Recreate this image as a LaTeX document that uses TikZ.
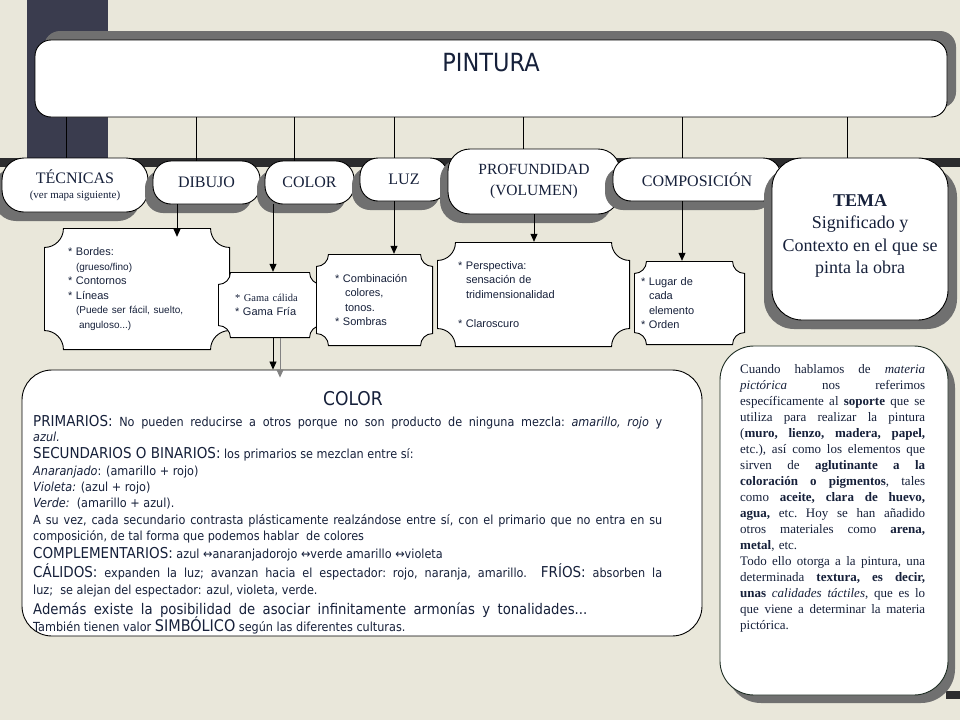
\documentclass[tikz,border=0pt]{standalone}
\usepackage{fontspec}
\setmainfont{Liberation Serif}
\newfontfamily\arialf{Liberation Sans}
\newfontfamily\tahf[FakeStretch=0.9]{DejaVu Sans}
\usetikzlibrary{arrows.meta, positioning, shadows}

\definecolor{paper}{RGB}{233,231,218}
\definecolor{slab}{RGB}{58,60,78}
\definecolor{barc}{RGB}{44,44,46}
\definecolor{ink}{RGB}{22,32,58}
\definecolor{shd}{RGB}{112,112,112}
\definecolor{edge}{RGB}{30,45,35}
\definecolor{greyarr}{RGB}{130,130,130}

\newcommand{\itm}{*\ }
\newcommand{\bigw}[1]{{\fontsize{15}{17}\selectfont #1}}
\newcommand{\jbox}[2]{\makebox[#1][s]{\frenchspacing\spaceskip=0pt\xspaceskip=0pt\relax#2}}

\tikzset{
  topbox/.style={
    rectangle, draw=black, line width=0.9pt, fill=white,
    rounded corners=16pt, minimum width=912pt, minimum height=77pt,
    drop shadow={shadow xshift=9pt, shadow yshift=9pt, fill=shd, opacity=1}
  },
  catbox/.style={
    rectangle, draw=black, line width=0.9pt, fill=white,
    rounded corners=18pt, align=center, text=ink, inner sep=0pt,
    font=\fontsize{16}{19}\selectfont,
    drop shadow={shadow xshift=-8pt, shadow yshift=-9pt, fill=shd, opacity=1}
  },
  plaque/.style={
    rectangle, inner sep=0pt, align=left, text=ink,
    font=\arialf\fontsize{11}{14.5}\selectfont,
    path picture={
      \draw[line width=0.9pt, fill=white]
        ([xshift=#1+0.45pt, yshift=-0.45pt]path picture bounding box.north west)
        -- ([xshift=-#1-0.45pt, yshift=-0.45pt]path picture bounding box.north east)
        arc[start angle=180, end angle=270, radius=#1]
        -- ([xshift=-0.45pt, yshift=#1+0.45pt]path picture bounding box.south east)
        arc[start angle=90, end angle=180, radius=#1]
        -- ([xshift=#1+0.45pt, yshift=0.45pt]path picture bounding box.south west)
        arc[start angle=0, end angle=90, radius=#1]
        -- ([xshift=0.45pt, yshift=-#1-0.45pt]path picture bounding box.north west)
        arc[start angle=270, end angle=360, radius=#1]
        -- cycle;
    }
  },
  arr/.style={line width=0.8pt, -{Triangle[length=8pt, width=7pt]}},
  cline/.style={anchor=base west, inner sep=0pt, text=ink,
    font=\tahf\fontsize{12.5}{14}\selectfont}
}

\begin{document}
\begin{tikzpicture}[x=1pt, y=-1pt]
  \useasboundingbox (0,0) rectangle (960,720);
  \fill[paper] (0,0) rectangle (960,720);
  % dark bars of the slide
  \fill[slab] (27,0) rectangle (108,158);
  \fill[barc] (0,158) rectangle (960,167);
  \fill[barc] (946,691) rectangle (960,699);

  % title
  \node[topbox] (pintura) at (491,78.5) {};
  \node[text=ink, font=\tahf\fontsize{25}{30}\selectfont] (ptitle) at (491,63) {PINTURA};

  % second row
  \node[catbox, minimum width=146pt, minimum height=54pt, rounded corners=22pt,
        font=\fontsize{16}{15}\selectfont] (tecnicas) at (75,185)
        {TÉCNICAS\\{\fontsize{11}{13}\selectfont (ver mapa siguiente)}};
  \node[catbox, minimum width=107pt, minimum height=43pt] (dibujo) at (206.5,182.5) {DIBUJO};
  \node[catbox, minimum width=89pt, minimum height=43pt] (colorc) at (309.5,182.5) {COLOR};
  \node[catbox, minimum width=88pt, minimum height=43pt] (luz) at (404,179.5) {LUZ};
  \node[catbox, minimum width=172pt, minimum height=65pt, rounded corners=22pt,
        font=\fontsize{15.5}{21}\selectfont] (prof) at (534,181.5) {PROFUNDIDAD\\(VOLUMEN)};
  \node[catbox, minimum width=168pt, minimum height=43pt] (comp) at (697,179.5) {COMPOSICIÓN};
  \node[catbox, minimum width=176pt, minimum height=162pt, rounded corners=30pt,
        font=\fontsize{18}{22.5}\selectfont,
        drop shadow={shadow xshift=9pt, shadow yshift=-9pt, fill=shd, opacity=1}]
        (tema) at (860,239) {\textbf{TEMA}\\Significado y\\Contexto en el que se\\pinta la obra\\[-12.5pt]};

  \foreach \n/\dx in {tecnicas/-9, dibujo/-10.5, colorc/-15.5, luz/-10, prof/-11, comp/-15, tema/-13}
    \draw[line width=0.8pt] ([xshift=\dx pt]\n.north) -- ([xshift=\dx pt]\n.north |- pintura.south);

  % detail boxes
  \node[plaque=19pt, minimum width=186pt, minimum height=122pt, text width=138pt] (bordes) at (137,289)
    {\itm Bordes:\\
     \hspace*{8pt}{\fontsize{10}{14.5}\selectfont(grueso/fino)}\\
     \itm Contornos\\
     \itm Líneas\\
     \hspace*{8pt}{\fontsize{10}{14.5}\selectfont(Puede ser fácil, suelto,}\\
     \hspace*{11pt}{\fontsize{10}{14.5}\selectfont anguloso...)}};
  \node[plaque=12pt, minimum width=104pt, minimum height=66pt, text width=70pt] (gama) at (270,305)
    {{\rmfamily\fontsize{10.5}{14}\selectfont\itm Gama cálida}\\\itm Gama Fría};
  \node[plaque=12pt, minimum width=117pt, minimum height=92pt, text width=79pt] (comb) at (374.5,300)
    {\itm Combinación\\\hspace*{10pt}colores,\\\hspace*{10pt}tonos.\\\itm Sombras};
  \node[plaque=18pt, minimum width=193pt, minimum height=105pt, text width=151pt] (persp) at (533.5,294.5)
    {\itm Perspectiva:\\\hspace*{8pt}sensación de\\\hspace*{8pt}tridimensionalidad\\[14.5pt]\itm Claroscuro};
  \node[plaque=12pt, minimum width=111pt, minimum height=84pt, text width=97pt] (lugar) at (689.5,303)
    {\itm Lugar de\\\hspace*{8pt}cada\\\hspace*{8pt}elemento\\\itm Orden};

  % COLOR panel
  \node[rectangle, draw=black, line width=0.9pt, fill=white, rounded corners=30pt,
        minimum width=680pt, minimum height=266pt] (colorbox) at (362,503) {};
  \node[cline, anchor=base, font=\tahf\fontsize{19}{21}\selectfont] (ctitle) at (353,405) {COLOR};
  \node[cline] (c1) at (33,426) {\jbox{629pt}{\bigw{PRIMARIOS:} No pueden reducirse a otros porque no son producto de ninguna mezcla: \textit{amarillo, rojo} y}};
  \node[cline] (c2) at (33,441) {\textit{azul.}};
  \node[cline] (c3) at (33,458) {\bigw{SECUNDARIOS O BINARIOS:} los primarios se mezclan entre sí:};
  \node[cline] (c4) at (33,475) {\textit{Anaranjado}: (amarillo + rojo)};
  \node[cline] (c5) at (33,491) {\textit{Violeta:} (azul + rojo)};
  \node[cline] (c6) at (33,507) {\textit{Verde:}\ \ (amarillo + azul).};
  \node[cline] (c7) at (33,524) {\jbox{629pt}{A su vez, cada secundario contrasta plásticamente realzándose entre sí, con el primario que no entra en su}};
  \node[cline] (c8) at (33,540) {composición, de tal forma que podemos hablar\ \ de colores};
  \node[cline] (c9) at (33,558) {\bigw{COMPLEMENTARIOS:} azul ↔anaranjadorojo ↔verde amarillo ↔violeta};
  \node[cline] (c10) at (33,577) {\jbox{629pt}{\bigw{CÁLIDOS:} expanden la luz; avanzan hacia el espectador: rojo, naranja, amarillo.\hspace{14pt}\bigw{FRÍOS:} absorben la}};
  \node[cline] (c11) at (33,594) {luz;\ \ se alejan del espectador: azul, violeta, verde.};
  \node[cline] (c12) at (33,614) {\jbox{554pt}{\fontsize{14.7}{16}\selectfont Además existe la posibilidad de asociar infinitamente armonías y tonalidades...}};
  \node[cline] (c13) at (33,631) {También tienen valor {\fontsize{16}{17}\selectfont SIMBÓLICO} según las diferentes culturas.};

  % arrows down
  \draw[arr] ([xshift=-29.5pt]dibujo.south) -- ([xshift=-29.5pt, yshift=-9pt]dibujo.south |- bordes.north);
  \draw[arr] ([xshift=3pt]gama.north |- colorc.south) -- ([xshift=3pt]gama.north);
  \draw[arr] ([xshift=-10pt]luz.south) -- ([xshift=-10pt]luz.south |- comb.north);
  \draw[arr] (prof.south) -- (prof.south |- persp.north);
  \draw[arr] ([xshift=-15pt]comp.south) -- ([xshift=-15pt]comp.south |- lugar.north);
  \draw[arr] ([xshift=3pt]gama.south) -- ([xshift=3pt]gama.south |- colorbox.north);
  \draw[arr, greyarr] ([xshift=10pt]gama.south) -- ([xshift=10pt, yshift=-8pt]gama.south |- colorbox.north);

  % materia pictorica
  \node[rectangle, draw=edge, line width=0.9pt, fill=white, rounded corners=34pt,
        minimum width=228pt, minimum height=349pt,
        drop shadow={shadow xshift=7pt, shadow yshift=-8pt, fill=shd, opacity=1}] (cuando) at (834,520.5) {};
  \node[anchor=north west, inner sep=0pt, text width=185pt, align=left, text=ink,
        font=\fontsize{13}{16}\selectfont] (cuandotxt) at (740,364)
    {\jbox{185pt}{Cuando hablamos de \textit{materia}}\\
     \jbox{185pt}{\textit{pictórica} nos referimos}\\
     \jbox{185pt}{específicamente al \textbf{soporte} que se}\\
     \jbox{185pt}{utiliza para realizar la pintura}\\
     \jbox{185pt}{(\textbf{muro, lienzo, madera, papel,}}\\
     \jbox{185pt}{etc.), así como los elementos que}\\
     \jbox{185pt}{sirven de \textbf{aglutinante a la}}\\
     \jbox{185pt}{\textbf{coloración o pigmentos}, tales}\\
     \jbox{185pt}{como \textbf{aceite, clara de huevo,}}\\
     \jbox{185pt}{\textbf{agua,} etc. Hoy se han añadido}\\
     \jbox{185pt}{otros materiales como \textbf{arena,}}\\
     \textbf{metal}, etc.\\
     \jbox{185pt}{Todo ello otorga a la pintura, una}\\
     \jbox{185pt}{determinada \textbf{textura, es decir,}}\\
     \jbox{185pt}{\textbf{unas} \textit{calidades táctiles}, que es lo}\\
     \jbox{185pt}{que viene a determinar la materia}\\
     pictórica.};
\end{tikzpicture}
\end{document}
